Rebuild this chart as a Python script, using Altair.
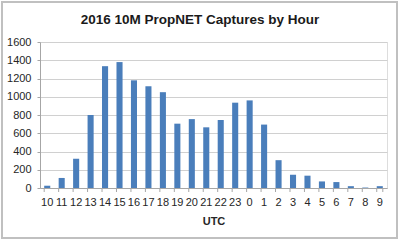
import altair as alt
import pandas as pd

hours = ["10", "11", "12", "13", "14", "15", "16", "17", "18", "19", "20", "21",
         "22", "23", "0", "1", "2", "3", "4", "5", "6", "7", "8", "9"]
captures = [25, 110, 320, 800, 1335, 1380, 1180, 1115, 1050, 705, 755, 665,
            745, 935, 960, 695, 305, 145, 135, 72, 65, 20, 5, 20]
y_ticks = [0, 200, 400, 600, 800, 1000, 1200, 1400, 1600]
title_text = "2016 10M PropNET Captures by Hour"

df = pd.DataFrame({"UTC": hours, "Captures": captures})
FONT = "Liberation Sans"
W, H = 347, 146

xscale = alt.Scale(domain=hours, paddingInner=0.58, paddingOuter=0.29)

bars = alt.Chart(df).mark_bar(color="#4a7ebb").encode(
    x=alt.X("UTC:N", sort=hours, scale=xscale,
            axis=alt.Axis(title="UTC", labelAngle=0, ticks=False, domain=True,
                          domainColor="#a6a6a6", labelFont=FONT, labelFontSize=11,
                          labelColor="#262626", labelPadding=8, titleFont=FONT,
                          titleFontSize=11, titleFontWeight="bold", titleColor="#262626",
                          titlePadding=8)),
    y=alt.Y("Captures:Q", scale=alt.Scale(domain=[0, 1600], nice=False),
            axis=alt.Axis(title=None, values=y_ticks, format="d", tickSize=3,
                          tickColor="#a6a6a6", domainColor="#a6a6a6", gridColor="#d0d0d0",
                          labelFont=FONT, labelFontSize=11, labelColor="#262626",
                          labelPadding=6)),
)

ticks = alt.Chart(df).mark_rule(color="#a6a6a6").encode(
    x=alt.X("UTC:N", sort=hours, scale=xscale, bandPosition=0),
    y=alt.value(H), y2=alt.value(H + 4),
)
last_tick = alt.Chart(df.tail(1)).mark_rule(color="#a6a6a6").encode(
    x=alt.X("UTC:N", sort=hours, scale=xscale, bandPosition=1),
    y=alt.value(H), y2=alt.value(H + 4),
)

border = alt.Chart(df.head(1)).mark_rect(
    fill=None, stroke="#c0c0c0", strokeWidth=2, clip=False
).encode(
    x=alt.value(-38), x2=alt.value(357), y=alt.value(-40), y2=alt.value(196),
)

title = alt.Chart(pd.DataFrame({"t": [title_text]})).mark_text(
    font=FONT, fontSize=13.5, fontWeight="bold", color="#1a1a1a",
    align="center", baseline="alphabetic", clip=False
).encode(text="t:N", x=alt.value(160), y=alt.value(-18))

chart = alt.layer(bars, ticks, last_tick, border, title).properties(
    width=W, height=H,
    autosize=alt.AutoSizeParams(type="none"),
    padding={"left": 40, "top": 42, "right": 13, "bottom": 53},
).configure_view(stroke=None).configure(background="white")

chart.save("out.html", embed_options={"renderer": "svg", "actions": False})
